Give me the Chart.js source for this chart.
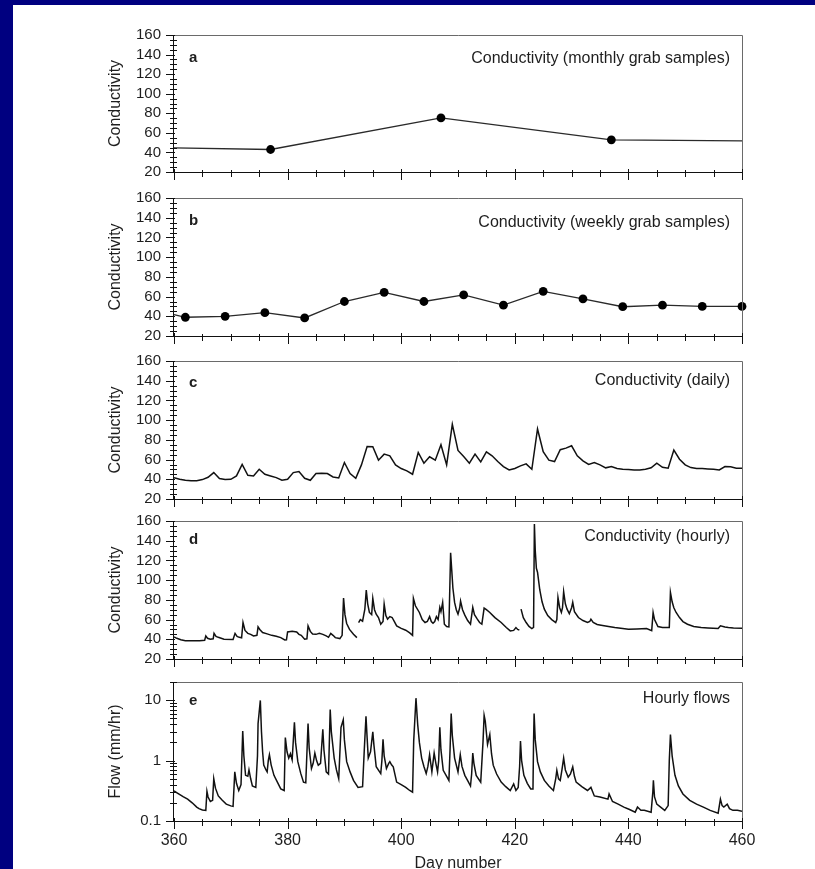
<!DOCTYPE html>
<html>
<head>
<meta charset="utf-8">
<script src="https://cdn.jsdelivr.net/npm/chart.js@4/dist/chart.umd.min.js"></script>
<style>
  body { margin: 0; width: 815px; height: 869px; overflow: hidden; position: relative; background: #000080; }
  #page { position: absolute; left: 13px; top: 5px; right: 0; bottom: 0; background: #fff; }
  canvas { position: absolute; left: 0; }
</style>
</head>
<body>
<div id="page"></div>
<canvas id="chart_a"></canvas>
<canvas id="chart_b"></canvas>
<canvas id="chart_c"></canvas>
<canvas id="chart_d"></canvas>
<canvas id="chart_e"></canvas>
<script>
// ---- data ----
const dayRange = [360, 460];
const condTicks = [20, 40, 60, 80, 100, 120, 140, 160];
const flowTicks = [0.1, 1, 10];

// a: monthly grab samples (line continues to both edges)
const monthlyDays = [360, 377, 407, 437, 460];
const monthlyCond = [44.7, 43, 75.3, 52.9, 51.9];
const monthlyIsSample = [false, true, true, true, false];

// b: weekly grab samples
const weeklyDays = [360, 362, 369, 376, 383, 390, 397, 404, 411, 418, 425, 432, 439, 446, 453, 460];
const weeklyCond = [41.7, 39, 40, 43.7, 38.3, 55, 64.3, 55, 61.7, 51.3, 65.3, 57.7, 49.7, 51.3, 50, 50];
const weeklyIsSample = [false, true, true, true, true, true, true, true, true, true, true, true, true, true, true, true];

// c: daily conductivity, day 360 .. 460
const dailyCond = [
  41.7, 40, 39, 38.6, 38.6, 39.7, 42, 46.8, 40.7, 39.7,
  40, 43.4, 55, 44, 43.4, 50.2, 45.1, 43.4, 41.7, 39,
  40, 46.8, 47.8, 41, 39, 45.8, 46.1, 45.8, 42.4, 41.4,
  57, 45.8, 41, 54.6, 73.3, 73, 59.4, 65.5, 63.8, 54.6,
  50.9, 48.5, 45.1, 67.2, 56.3, 62.8, 59.4, 75, 54.6, 95.8,
  69.3, 63.1, 56.3, 65.5, 57.7, 67.9, 63.8, 58, 52.9, 49.5,
  50.9, 53.6, 55.6, 50.2, 91, 67.9, 59.4, 58, 70, 71.6,
  74, 63.8, 58.7, 55, 57, 54.6, 51.6, 52.9, 50.9, 50.2,
  49.9, 49.5, 49.5, 50.2, 51.6, 56.3, 52.2, 51.2, 69.6, 60.4,
  54.6, 51.9, 50.9, 50.9, 50.5, 50.2, 49.5, 52.9, 52.6, 51.2,
  51.2
];

// d: hourly conductivity (traced turning points, null = gap in record)
const hourlyCondDays = [
  360, 360.5, 361.2, 362, 364.5, 365.4, 365.6, 365.9, 366.4, 366.9, 367.05, 367.4, 367.8, 368.8, 370.4,
  370.75, 371.1, 371.5, 371.9, 372.15, 372.5, 373, 373.5, 374, 374.6, 374.8, 375.1, 375.6, 376.4, 377.2,
  378, 378.8, 379.5, 379.8, 380, 380.8, 381.6, 382, 382.4, 383, 383.4, 383.6, 384, 384.4, 385,
  385.6, 386.2, 386.8, 387.2, 387.6, 388, 388.4, 389.2, 389.6, 389.85, 390.1, 390.4, 390.9, 391.6, 392.2,
  392.3, 392.5, 392.8, 393.2, 393.6, 393.85, 394.1, 394.4, 394.8, 395, 395.3, 395.6, 396, 396.4, 396.8,
  397, 397.3, 397.6, 398, 398.4, 398.8, 399.2, 400, 400.8, 401.5, 402, 402.15, 402.5, 403.2, 403.7,
  404.2, 404.6, 405, 405.3, 405.6, 405.9, 406.2, 406.5, 406.8, 407, 407.3, 407.6, 408, 408.4, 408.7,
  408.9, 409.1, 409.4, 409.7, 410, 410.3, 410.45, 410.8, 411.2, 411.7, 412.2, 412.6, 412.9, 413.4, 413.8,
  414.2, 414.6, 415, 415.6, 416.5, 417.6, 418.5, 419.2, 419.8, 420.2, 420.5, 420.8, 420.9, 421.1, 421.5,
  422, 422.5, 423, 423.3, 423.45, 423.6, 423.8, 424, 424.4, 424.8, 425.2, 425.8, 426.5, 427.2, 427.4,
  427.6, 427.9, 428.2, 428.4, 428.6, 428.9, 429.2, 429.6, 430, 430.2, 430.5, 431.2, 432, 432.8, 433.2,
  433.4, 433.8, 434.5, 435.2, 436.5, 437.6, 439, 440, 441.5, 443.2, 444.1, 444.35, 444.6, 445.2, 446,
  447.2, 447.4, 447.7, 448, 448.4, 449, 449.6, 450.4, 451.5, 452.8, 454, 455.8, 456.2, 457, 457.6,
  458.5, 460
];
const hourlyCond = [
  42.4, 41, 39.5, 38.6, 38.5, 39, 43.4, 41, 40, 40.5, 46, 43, 42, 40, 39.7,
  46, 43, 42, 41.5, 57, 49, 46, 45, 43.4, 44, 52.6, 50, 46.8, 45.5, 44,
  43, 41.7, 39.3, 39.5, 47.5, 48.2, 47.5, 45, 44, 40, 40.5, 53.6, 48, 45.4, 45,
  46, 45, 43.4, 42, 46, 44, 41.7, 40.7, 44, 81.8, 65, 56, 50, 45.1, 41.7,
  null, 57, 60, 58.4, 70.6, 90, 76, 67.2, 65, 81.5, 70, 65.5, 62, 55.3, 58,
  75.7, 64, 60.4, 63, 62.1, 58, 53.6, 51, 49.2, 46.5, 44, 81.5, 74, 67.2, 60,
  57, 58, 63, 58, 56.3, 58, 63, 60, 72.3, 68, 77.4, 55.3, 53, 52.6, 127.8,
  110, 92, 77.4, 70, 65.5, 72, 78.8, 70, 64.5, 59, 55.3, 72.3, 65, 60.4, 57,
  55.3, 71.6, 70, 67.2, 62, 57, 52, 48.5, 49, 51.9, 50, 49.5, null, 70.6, 62,
  57, 53, 50.9, 52, 157, 130, 112, 108, 90, 78, 70.6, 64, 60, 57, 60,
  82.5, 72, 67.2, 72, 88.3, 76, 70.6, 66, 72, 77.4, 68, 62.1, 59, 57, 58,
  60.4, 57, 55, 54.3, 53, 51.9, 51, 50.2, 50.5, 50.9, 48.8, 67.2, 60, 52.9, 52,
  51.9, 87.6, 78, 72, 67.2, 62, 58, 55.3, 53, 51.9, 51.5, 50.9, 53.6, 52.5, 51.9,
  51.5, 51.2
];

// e: hourly flows, mm/hr (traced turning points)
const hourlyFlowDays = [
  360, 360.6, 361.6, 362.4, 363.2, 364, 364.4, 365, 365.6, 365.8, 366, 366.4, 366.8, 367, 367.3,
  367.8, 368.5, 369.2, 370, 370.4, 370.7, 371, 371.4, 371.8, 372.1, 372.3, 372.6, 373, 373.2, 373.5,
  373.8, 374.4, 374.7, 374.8, 375.2, 375.4, 375.6, 375.8, 376.2, 376.4, 376.6, 376.8, 377.1, 377.6, 378.2,
  378.8, 379.4, 379.6, 379.9, 380.2, 380.5, 380.8, 381.2, 381.4, 381.8, 382.3, 382.8, 383.2, 383.6, 383.8,
  384.2, 384.5, 384.8, 385.1, 385.4, 385.8, 386.2, 386.4, 386.8, 387.2, 387.5, 387.7, 388.2, 388.6, 389,
  389.4, 389.8, 390, 390.4, 391, 391.6, 392.4, 393.2, 393.5, 393.8, 394, 394.2, 394.6, 395, 395.2,
  395.6, 396.4, 396.6, 396.8, 397, 397.4, 397.8, 398, 398.3, 398.6, 399.2, 400, 400.8, 401.5, 402,
  402.2, 402.6, 402.9, 403.2, 403.6, 404, 404.4, 404.7, 405, 405.4, 405.8, 406.1, 406.4, 406.6, 406.8,
  407, 407.4, 408, 408.4, 408.6, 408.8, 409, 409.4, 410, 410.4, 410.7, 411.2, 411.8, 412.2, 412.4,
  412.6, 412.8, 413.2, 414, 414.4, 414.6, 414.8, 415.2, 415.6, 415.9, 416.2, 416.8, 417.6, 418.4, 419.2,
  419.8, 420.2, 420.6, 420.85, 421, 421.2, 421.6, 422.2, 422.8, 423.2, 423.3, 423.4, 423.6, 424, 424.5,
  425.2, 426, 426.8, 427.2, 427.4, 427.7, 428, 428.3, 428.6, 428.9, 429.4, 429.8, 430.2, 430.5, 430.8,
  431.8, 432.8, 433.4, 434, 435, 436.4, 436.6, 437.2, 438.2, 439.2, 440.2, 441.2, 441.6, 442.2, 442.8,
  444, 444.3, 444.4, 444.6, 445, 446, 446.4, 447, 447.2, 447.4, 447.7, 448.2, 448.8, 449.6, 450.8,
  452, 453.2, 454.4, 455.8, 456.2, 456.5, 456.8, 457.4, 457.8, 458.4, 459.2, 460
];
const hourlyFlow = [
  0.316, 0.29, 0.253, 0.23, 0.2, 0.17, 0.16, 0.152, 0.15, 0.31, 0.25, 0.21, 0.22, 0.5, 0.35,
  0.26, 0.22, 0.19, 0.178, 0.175, 0.65, 0.42, 0.32, 0.4, 3.1, 1.2, 0.57, 0.55, 0.7, 0.5,
  0.38, 0.36, 1.2, 4.1, 9.9, 3, 1.4, 0.84, 0.7, 0.65, 1.0, 1.25, 0.85, 0.57, 0.44,
  0.34, 0.32, 2.4, 1.4, 1.1, 1.3, 1.03, 4.3, 2.0, 0.96, 0.62, 0.44, 0.43, 4.1, 1.6,
  0.74, 0.9, 1.33, 1.0, 0.84, 0.9, 3.3, 1.5, 0.65, 0.6, 7, 3, 1.1, 0.7, 0.5,
  3.55, 4.75, 2.2, 0.96, 0.65, 0.47, 0.36, 0.37, 1.5, 5.4, 2.4, 1.1, 1.4, 3.0, 1.8,
  0.79, 0.61, 1.0, 2.25, 1.2, 0.74, 0.9, 0.96, 0.85, 0.79, 0.44, 0.4, 0.36, 0.32, 0.3,
  2.1, 10.8, 4, 2, 1.1, 0.8, 0.61, 0.8, 1.25, 0.65, 1.33, 0.9, 0.65, 1.0, 3.55,
  1.5, 0.69, 0.55, 0.47, 1.5, 6, 2.6, 1.1, 0.65, 1.25, 0.8, 0.57, 0.45, 0.38, 0.6,
  1.33, 0.9, 0.57, 0.44, 2, 5.6, 4.5, 1.85, 2.7, 1.3, 0.84, 0.6, 0.44, 0.37, 0.32,
  0.41, 0.32, 0.36, 0.8, 2.1, 1.0, 0.57, 0.42, 0.34, 0.34, 2, 6, 2.2, 0.96, 0.65,
  0.47, 0.38, 0.32, 0.5, 0.69, 0.5, 0.47, 0.7, 1.1, 0.7, 0.53, 0.6, 0.79, 0.55, 0.44,
  0.37, 0.32, 0.36, 0.26, 0.25, 0.23, 0.28, 0.21, 0.19, 0.17, 0.155, 0.14, 0.17, 0.15, 0.15,
  0.14, 0.3, 0.47, 0.25, 0.19, 0.16, 0.15, 0.18, 1.0, 2.7, 1.2, 0.57, 0.38, 0.28, 0.22,
  0.19, 0.17, 0.15, 0.135, 0.23, 0.18, 0.17, 0.19, 0.16, 0.15, 0.15, 0.145
];

// ---- layout of the five stacked panels ----
const FONT = '"Liberation Sans", Arial, sans-serif';
const TEXT = "#1e1e1e";
const PLOT_LEFT = 174;
const PLOT_RIGHT = 742;
const PAD_TOP = 24;       // room above each plot (must exceed half a tick label + tick padding)
const AXIS_GAP = 24;      // same room below the plots without day labels

const panels = [
  { id: "chart_a", top: 35, bottom: 172, letter: "a", title: "Conductivity (monthly grab samples)", letterDy: 23, titleDy: 24 },
  { id: "chart_b", top: 198, bottom: 336, letter: "b", title: "Conductivity (weekly grab samples)", letterDy: 23, titleDy: 25 },
  { id: "chart_c", top: 361, bottom: 499, letter: "c", title: "Conductivity (daily)", letterDy: 22, titleDy: 20 },
  { id: "chart_d", top: 521, bottom: 659, letter: "d", title: "Conductivity (hourly)", letterDy: 19, titleDy: 16 },
  { id: "chart_e", top: 682, bottom: 821, letter: "e", title: "Hourly flows", letterDy: 19, titleDy: 17 },
];

function xy(xs, ys) {
  return xs.map((d, i) => ({ x: d, y: ys[i] }));
}

// frame, tick marks and in-panel labels
const panelDecor = {
  id: "panelDecor",
  afterDraw(chart, args, opts) {
    const { ctx, chartArea: a, scales: { x, y } } = chart;
    ctx.save();
    ctx.lineWidth = 1;

    // light frame on top and right
    ctx.strokeStyle = "#6a6a6a";
    ctx.beginPath();
    ctx.moveTo(a.left, a.top + 0.5);
    ctx.lineTo(a.right + 0.5, a.top + 0.5);
    ctx.lineTo(a.right + 0.5, a.bottom);
    ctx.stroke();

    // axes
    ctx.strokeStyle = "#111";
    ctx.beginPath();
    ctx.moveTo(a.left - 0.5, a.top);
    ctx.lineTo(a.left - 0.5, a.bottom + 0.5);
    ctx.lineTo(a.right + 1, a.bottom + 0.5);

    // x ticks every 5 days, longer every 20
    for (let d = dayRange[0]; d <= dayRange[1]; d += 5) {
      const px = Math.round(x.getPixelForValue(d)) + 0.5;
      const major = d % 20 === 0;
      ctx.moveTo(px, a.bottom - (major ? 3 : 2));
      ctx.lineTo(px, a.bottom + (major ? 8 : 5));
    }

    // y ticks
    const yt = [];
    if (opts.log) {
      for (let dec = 0.1; dec <= 10; dec *= 10) {
        for (let m = 1; m <= 9; m++) {
          const v = +(m * dec).toPrecision(3);
          if (v <= y.max) yt.push({ v: v, major: m === 1 });
        }
      }
      yt.push({ v: 20, major: false });
    } else {
      for (let v = 20; v <= 160; v += 5) yt.push({ v: v, major: v % 20 === 0 });
    }
    yt.forEach((t) => {
      const py = Math.round(y.getPixelForValue(t.v)) + 0.5;
      ctx.moveTo(a.left - (t.major ? 8 : 4), py);
      ctx.lineTo(a.left + (t.major ? 1 : 3), py);
    });
    ctx.stroke();

    // panel letter and title
    ctx.fillStyle = TEXT;
    ctx.textBaseline = "middle";
    ctx.font = "bold 15px " + FONT;
    ctx.textAlign = "left";
    ctx.fillText(opts.letter, a.left + 15, a.top + opts.letterDy);
    ctx.font = "16px " + FONT;
    ctx.textAlign = "right";
    ctx.fillText(opts.title, a.right - 12, a.top + opts.titleDy);
    ctx.restore();
  },
};

function makeChart(p, datasets, yScale, isBottom) {
  const axisH = isBottom ? 873 - p.bottom : AXIS_GAP;
  const h = p.bottom - p.top + PAD_TOP + axisH;
  const cv = document.getElementById(p.id);
  cv.width = 815;
  cv.height = h;
  cv.style.width = "815px";
  cv.style.height = h + "px";
  cv.style.top = p.top - PAD_TOP + "px";

  new Chart(cv.getContext("2d"), {
    type: "line",
    data: { datasets: datasets },
    options: {
      responsive: false,
      animation: false,
      devicePixelRatio: 1,
      layout: { padding: { left: 0, right: 815 - PLOT_RIGHT, top: PAD_TOP, bottom: 0 } },
      plugins: {
        legend: { display: false },
        tooltip: { enabled: false },
        panelDecor: { letter: p.letter, title: p.title, letterDy: p.letterDy, titleDy: p.titleDy, log: yScale.type === "logarithmic" },
      },
      scales: {
        x: {
          type: "linear",
          min: dayRange[0],
          max: dayRange[1],
          grid: { display: false, drawTicks: false },
          border: { display: false },
          ticks: {
            display: isBottom,
            stepSize: 20,
            padding: 10,
            color: TEXT,
            font: { size: 16 },
          },
          title: {
            display: isBottom,
            text: "Day number",
            color: TEXT,
            font: { size: 16 },
            padding: { top: 0, bottom: 0 },
          },
          afterFit: (s) => { s.height = axisH; },
        },
        y: Object.assign({
          grid: { display: false, drawTicks: false },
          border: { display: false },
          afterFit: (s) => { s.width = PLOT_LEFT; },
        }, yScale),
      },
    },
    plugins: [panelDecor],
  });
}

Chart.defaults.font.family = FONT;
Chart.defaults.color = TEXT;

const condAxis = {
  type: "linear",
  min: 20,
  max: 160,
  afterBuildTicks: (s) => { s.ticks = condTicks.map((v) => ({ value: v })); },
  ticks: { padding: 13, autoSkip: false, color: TEXT, font: { size: 15, lineHeight: 1 } },
  title: { display: true, text: "Conductivity", color: TEXT, font: { size: 16 }, padding: { top: 106, bottom: 0 } },
};

const flowAxis = {
  type: "logarithmic",
  min: 0.1,
  max: 20,
  afterBuildTicks: (s) => { s.ticks = flowTicks.map((v) => ({ value: v })); },
  ticks: { padding: 13, autoSkip: false, color: TEXT, font: { size: 15, lineHeight: 1 }, callback: (v) => String(v) },
  title: { display: true, text: "Flow (mm/hr)", color: TEXT, font: { size: 16 }, padding: { top: 106, bottom: 0 } },
};

const sampleStyle = (flags) => ({
  borderColor: "#2a2a2a",
  borderWidth: 1.3,
  pointRadius: flags.map((f) => (f ? 4.4 : 0)),
  pointBackgroundColor: "#000",
  pointBorderColor: "#000",
  pointBorderWidth: 0,
  tension: 0,
  clip: 8,
});

const traceStyle = {
  borderColor: "#111",
  borderWidth: 1.5,
  pointRadius: 0,
  tension: 0,
  spanGaps: false,
};

makeChart(panels[0], [Object.assign({ data: xy(monthlyDays, monthlyCond) }, sampleStyle(monthlyIsSample))], condAxis, false);
makeChart(panels[1], [Object.assign({ data: xy(weeklyDays, weeklyCond) }, sampleStyle(weeklyIsSample))], condAxis, false);
makeChart(panels[2], [Object.assign({ data: dailyCond.map((v, i) => ({ x: dayRange[0] + i, y: v })) }, traceStyle)], condAxis, false);
makeChart(panels[3], [Object.assign({ data: xy(hourlyCondDays, hourlyCond) }, traceStyle)], condAxis, false);
makeChart(panels[4], [Object.assign({ data: xy(hourlyFlowDays, hourlyFlow) }, traceStyle)], flowAxis, true);
</script>
</body>
</html>
